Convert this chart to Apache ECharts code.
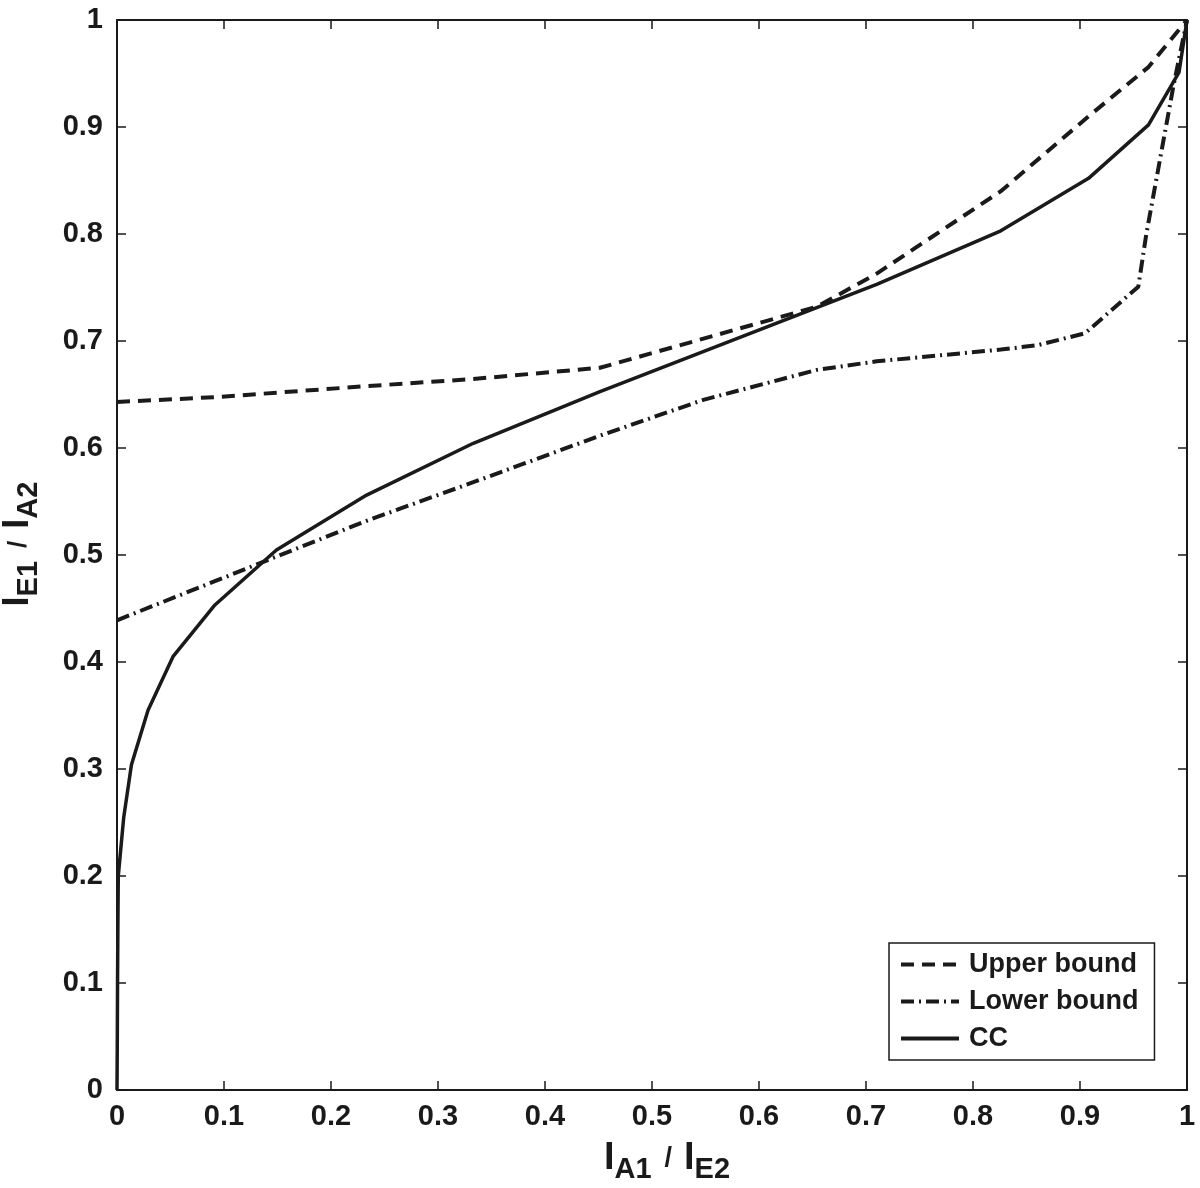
<!DOCTYPE html>
<html>
<head>
<meta charset="utf-8">
<title>CC bounds</title>
<script src="https://cdn.jsdelivr.net/npm/echarts@6/dist/echarts.min.js"></script>
<style>
  html, body { margin: 0; padding: 0; background: #fff; }
  #chart { width: 1200px; height: 1188px; }
</style>
</head>
<body>
<div id="chart"></div>
<script>
// values
var upperX = [0, 0.0915, 0.2333, 0.333, 0.4514, 0.654, 0.71, 0.826, 0.908, 0.964, 1];
var upperY = [0.643, 0.6475, 0.6578, 0.6645, 0.675, 0.732, 0.763, 0.840, 0.910, 0.956, 1];

var lowerX = [0, 0.0915, 0.149, 0.2333, 0.333, 0.4514, 0.548, 0.654, 0.71, 0.826, 0.86, 0.9047, 0.9545, 0.962, 0.9872, 1];
var lowerY = [0.439, 0.4755, 0.4985, 0.532, 0.568, 0.6115, 0.645, 0.673, 0.681, 0.692, 0.696, 0.7072, 0.7508, 0.80, 0.9377, 1];

var ccX = [0, 0.0003, 0.0005, 0.0008, 0.0012, 0.0063, 0.0135, 0.029, 0.0523, 0.0915, 0.149, 0.2333, 0.333, 0.4514, 0.71, 0.826, 0.908, 0.964, 0.9925, 1];
var ccY = [0, 0.05, 0.1, 0.15, 0.2, 0.255, 0.304, 0.355, 0.405, 0.4533, 0.5047, 0.556, 0.6044, 0.6526, 0.753, 0.803, 0.852, 0.902, 0.951, 1];

var seriesNames = ['Upper bound', 'Lower bound', 'CC'];

function zip(xs, ys) {
    var out = [];
    for (var i = 0; i < xs.length; i++) {
        out.push([xs[i], ys[i]]);
    }
    return out;
}

var ink = '#1a1a1a';
var font = 'Liberation Sans, Arial, Helvetica, sans-serif';

function makeAxis(pos, showLabel) {
    return {
        type: 'value',
        position: pos,
        min: 0,
        max: 1,
        interval: 0.1,
        axisLine: { show: true, onZero: false, lineStyle: { color: ink, width: 2 } },
        axisTick: { show: true, inside: true, length: 9, lineStyle: { color: ink, width: 1.5 } },
        axisLabel: {
            show: showLabel,
            fontSize: 29,
            fontWeight: 'bold',
            fontFamily: font,
            color: ink,
            margin: (pos === 'left' || pos === 'right') ? 14 : 12
        },
        splitLine: { show: false }
    };
}

var xBottom = makeAxis('bottom', true);
xBottom.name = '{m|I}{s|A1}{sl|/}{m|I}{s|E2}';
xBottom.nameLocation = 'middle';
xBottom.nameGap = 43;
xBottom.nameTextStyle = {
    color: ink,
    fontFamily: font,
    fontWeight: 'bold',
    padding: [0, 0, 0, 30],
    rich: {
        m: { fontSize: 38, fontWeight: 'bold', fontFamily: font, color: ink },
        s: { fontSize: 29, fontWeight: 'bold', fontFamily: font, color: ink, padding: [22, 0, 0, 0] },
        sl: { fontSize: 27, fontWeight: 'bold', fontFamily: font, color: ink, padding: [0, 12, 0, 13] }
    }
};

var yLeft = makeAxis('left', true);
yLeft.name = '{m|I}{s|E1}{sl|/}{m|I}{s|A2}';
yLeft.nameLocation = 'middle';
yLeft.nameGap = 74;
yLeft.nameTextStyle = {
    color: ink,
    fontFamily: font,
    fontWeight: 'bold',
    padding: [0, 0, 0, 22],
    rich: {
        m: { fontSize: 36, fontWeight: 'bold', fontFamily: font, color: ink },
        s: { fontSize: 29, fontWeight: 'bold', fontFamily: font, color: ink, padding: [20, 0, 0, 0] },
        sl: { fontSize: 26, fontWeight: 'bold', fontFamily: font, color: ink, padding: [0, 12, 0, 13] }
    }
};

var chart = echarts.init(document.getElementById('chart'));

var option = {
    animation: false,
    backgroundColor: '#fff',
    grid: { left: 117, right: 13, top: 20, bottom: 98, outerBoundsMode: 'none', containLabel: false },
    xAxis: [xBottom, makeAxis('top', false)],
    yAxis: [yLeft, makeAxis('right', false)],
    legend: {
        orient: 'vertical',
        left: 889,
        top: 943,
        padding: [8, 16, 8, 10],
        itemGap: 10,
        itemWidth: 58,
        itemHeight: 14,
        backgroundColor: '#fff',
        borderColor: ink,
        borderWidth: 1.5,
        borderRadius: 0,
        itemStyle: { opacity: 0 },
        lineStyle: { width: 4 },
        textStyle: { fontSize: 27, fontWeight: 'bold', fontFamily: font, color: ink, padding: [0, 0, 0, 5] },
        data: seriesNames
    },
    series: [
        {
            name: seriesNames[0],
            type: 'line',
            symbol: 'none',
            showSymbol: false,
            lineStyle: { color: ink, width: 4, type: [13, 8] },
            itemStyle: { color: ink },
            data: zip(upperX, upperY)
        },
        {
            name: seriesNames[1],
            type: 'line',
            symbol: 'none',
            showSymbol: false,
            lineStyle: { color: ink, width: 4, type: [13, 5, 2, 5] },
            itemStyle: { color: ink },
            data: zip(lowerX, lowerY)
        },
        {
            name: seriesNames[2],
            type: 'line',
            symbol: 'none',
            showSymbol: false,
            lineStyle: { color: ink, width: 3.5, type: 'solid' },
            itemStyle: { color: ink },
            data: zip(ccX, ccY)
        }
    ]
};

chart.setOption(option);
</script>
</body>
</html>
